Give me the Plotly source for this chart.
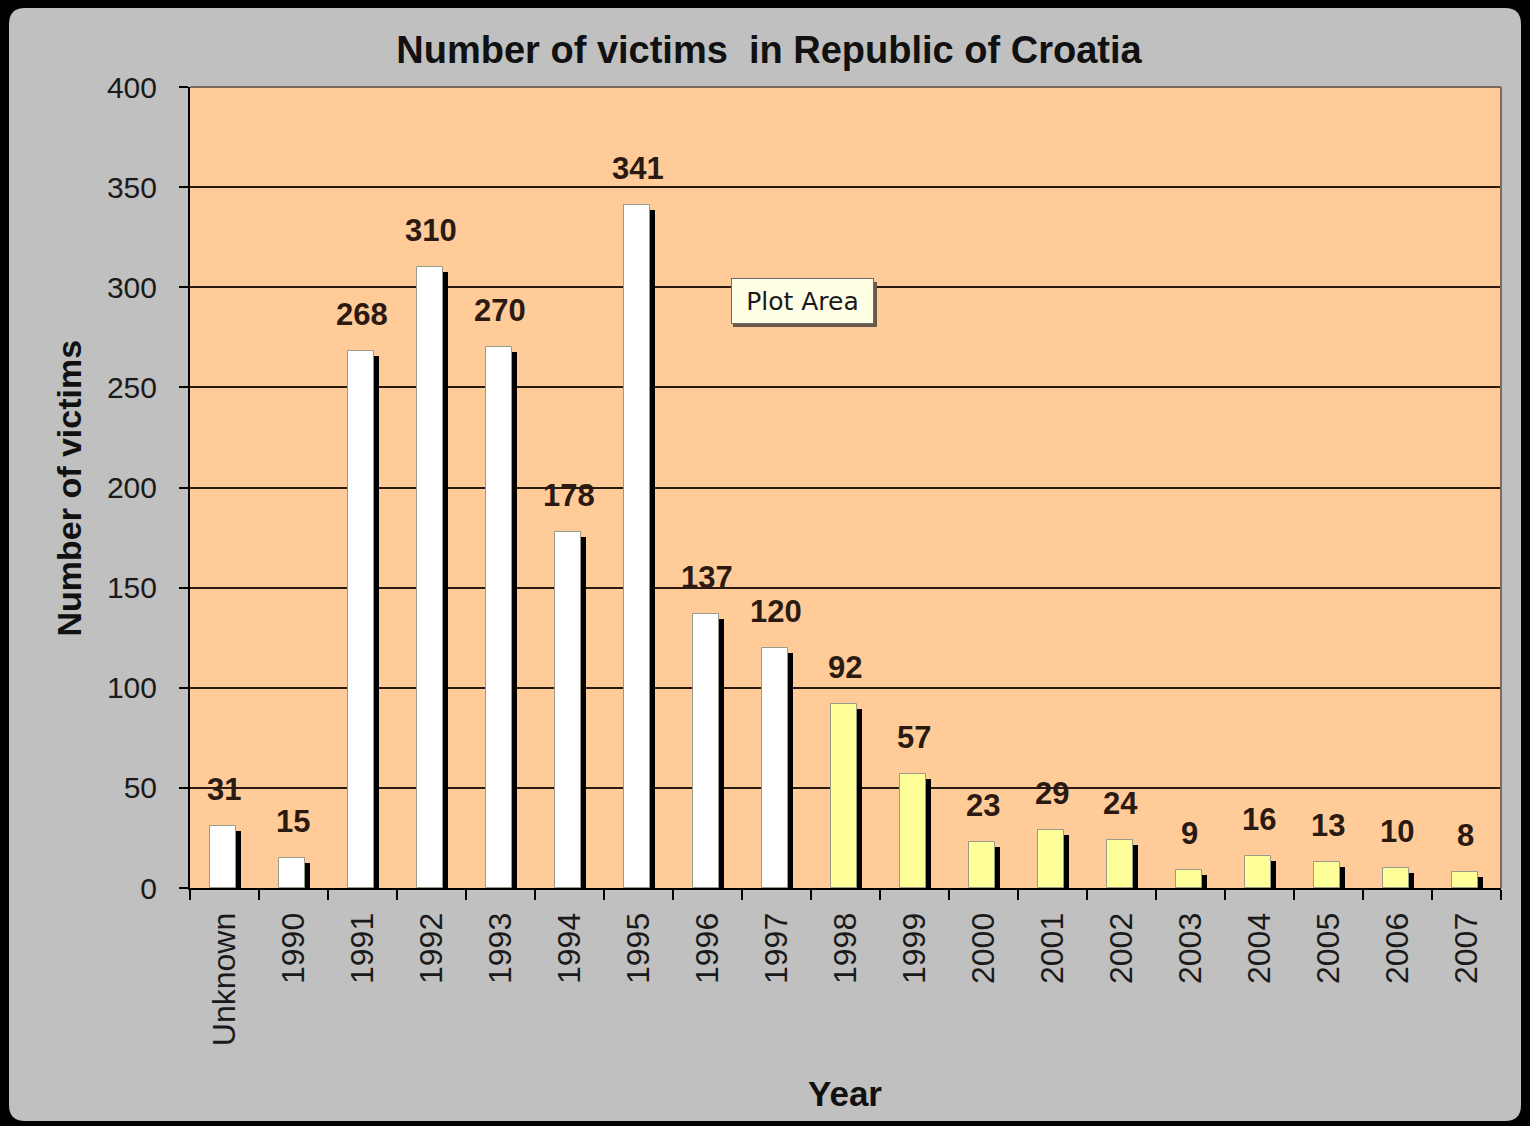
import plotly.graph_objects as go

# ---- data ----
categories = ["Unknown", "1990", "1991", "1992", "1993", "1994", "1995", "1996", "1997",
              "1998", "1999", "2000", "2001", "2002", "2003", "2004", "2005", "2006", "2007"]
victims = [31, 15, 268, 310, 270, 178, 341, 137, 120, 92, 57, 23, 29, 24, 9, 16, 13, 10, 8]
y_ticks = [0, 50, 100, 150, 200, 250, 300, 350, 400]

# ---- styling ----
WHITE = "#FFFFFF"
YELLOW = "#FFFF99"
bar_colors = [WHITE if i < 9 else YELLOW for i in range(len(categories))]
FONT = "Liberation Sans, Arial, sans-serif"

L, R, T, B = 190, 1501, 87, 888  # plot area in pixels
W, H = 1530, 1126


def px_x(px):
    return (px - L) / (R - L)


def px_y(py):
    return (B - py) / (B - T)


def rounded_rect(x0, y0, x1, y1, r):
    pts = [
        f"M {px_x(x0 + r)},{px_y(y0)}",
        f"L {px_x(x1 - r)},{px_y(y0)}",
        f"Q {px_x(x1)},{px_y(y0)} {px_x(x1)},{px_y(y0 + r)}",
        f"L {px_x(x1)},{px_y(y1 - r)}",
        f"Q {px_x(x1)},{px_y(y1)} {px_x(x1 - r)},{px_y(y1)}",
        f"L {px_x(x0 + r)},{px_y(y1)}",
        f"Q {px_x(x0)},{px_y(y1)} {px_x(x0)},{px_y(y1 - r)}",
        f"L {px_x(x0)},{px_y(y0 + r)}",
        f"Q {px_x(x0)},{px_y(y0)} {px_x(x0 + r)},{px_y(y0)}",
        "Z",
    ]
    return " ".join(pts)


fig = go.Figure()

# shadow bars (offset right and slightly lower)
fig.add_trace(go.Bar(
    x=categories, y=[max(v - 2.5, 0) for v in victims],
    offset=0.14, width=0.095,
    marker=dict(color="#000000", line=dict(width=0)),
    hoverinfo="skip", showlegend=False,
))
# main bars
fig.add_trace(go.Bar(
    x=categories, y=victims,
    offset=-0.205, width=0.37,
    marker=dict(color=bar_colors, line=dict(color="#9a9a8a", width=1)),
    showlegend=False,
))

annotations = []
for i, v in enumerate(victims):
    annotations.append(dict(
        x=i, y=v, xref="x", yref="y", text=str(v), showarrow=False,
        yanchor="bottom", yshift=17, xshift=-1,
        font=dict(family=FONT, size=31, color="#2a1a12", weight="bold"),
    ))

# axis titles
annotations.append(dict(
    x=px_x(68), y=0.5, xref="paper", yref="paper", text="Number of victims",
    textangle=-90, showarrow=False, xanchor="center", yanchor="middle",
    font=dict(family=FONT, size=34, color="#111111", weight="bold"),
))
annotations.append(dict(
    x=px_x(845), y=px_y(1093), xref="paper", yref="paper", text="Year",
    showarrow=False, xanchor="center", yanchor="middle",
    font=dict(family=FONT, size=35, color="#111111", weight="bold"),
))
# "Plot Area" tooltip
annotations.append(dict(
    x=px_x(802), y=px_y(301), xref="paper", yref="paper", text="Plot Area",
    showarrow=False, xanchor="center", yanchor="middle",
    bgcolor="#FFFFE6", bordercolor="#6a6a6a", borderwidth=1, borderpad=1,
    width=139, height=42,
    font=dict(family="DejaVu Sans, sans-serif", size=25, color="#1a1a1a"),
))

shapes = [
    # gray chart panel with rounded corners
    dict(type="path", xref="paper", yref="paper", path=rounded_rect(9, 8, 1521, 1121, 16),
         fillcolor="#C0C0C0", line=dict(width=0), layer="below"),
    # peach plot area
    dict(type="rect", xref="paper", yref="paper", x0=0, x1=1, y0=0, y1=1,
         fillcolor="#FFCC99", line=dict(width=0), layer="below"),
    # top and right border of the plot area
    dict(type="line", xref="paper", yref="paper", x0=0, x1=1, y0=1, y1=1,
         line=dict(color="#7a6a5e", width=2), layer="above"),
    dict(type="line", xref="paper", yref="paper", x0=1, x1=1, y0=0, y1=1,
         line=dict(color="#7a6a5e", width=2), layer="above"),
    # tooltip shadow
    dict(type="rect", xref="paper", yref="paper",
         x0=px_x(733), x1=px_x(877), y0=px_y(327), y1=px_y(282),
         fillcolor="#6a5a4a", line=dict(width=0), layer="above"),
]

fig.update_layout(
    width=W, height=H,
    margin=dict(l=L, r=W - R, t=T, b=H - B),
    paper_bgcolor="#000000",
    plot_bgcolor="#FFCC99",
    barmode="overlay",
    bargap=0,
    title=dict(
        text="Number of victims\u00a0 in Republic of Croatia",
        x=769 / W, xref="container", xanchor="center",
        y=1 - 50 / H, yref="container", yanchor="middle",
        font=dict(family=FONT, size=38, color="#111111", weight="bold"),
    ),
    xaxis=dict(
        type="category", categoryorder="array", categoryarray=categories,
        range=[-0.5, len(categories) - 0.5],
        showgrid=False, showline=True, linecolor="#000000", linewidth=2,
        ticks="outside", tickson="boundaries", ticklen=10, tickwidth=2, tickcolor="#000000",
        tickangle=-90, ticklabelstandoff=10,
        tickfont=dict(family=FONT, size=32, color="#1a1a1a"),
        zeroline=False,
    ),
    yaxis=dict(
        range=[0, 400], tickvals=y_ticks,
        showgrid=True, gridcolor="#2b1a10", gridwidth=2,
        showline=True, linecolor="#000000", linewidth=2,
        ticks="outside", ticklen=9, tickwidth=2, tickcolor="#000000",
        ticklabelstandoff=16,
        tickfont=dict(family=FONT, size=30, color="#1a1a1a"),
        zeroline=False,
    ),
    annotations=annotations,
    shapes=shapes,
)

fig.write_html(
    "out.html",
    config={"displayModeBar": False},
    post_script="document.body.style.margin='0';document.body.style.overflow='hidden';",
)
